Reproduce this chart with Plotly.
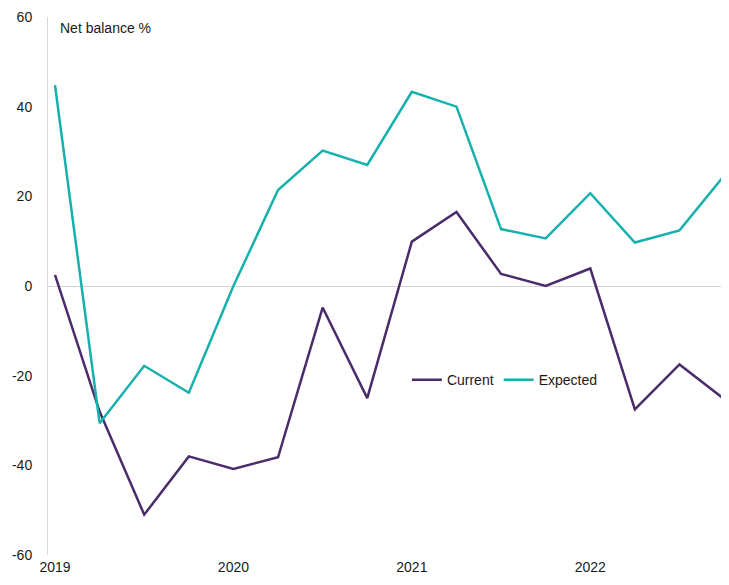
import plotly.graph_objects as go

quarters = list(range(16))
year_ticks = [0, 4, 8, 12]
year_labels = ["2019", "2020", "2021", "2022"]

current = [2.5, -28, -51, -38, -40.8, -38.2, -4.8, -25, 9.9, 16.5, 2.7, 0, 3.9, -27.5, -17.5, -25.2]
expected = [44.8, -30.6, -17.8, -23.8, 0, 21.4, 30.2, 27, 43.3, 40, 12.7, 10.6, 20.7, 9.7, 12.4, 24.6]

PURPLE = "#4b2c6b"
TEAL = "#16b1ad"

fig = go.Figure()
fig.add_trace(go.Scatter(x=quarters, y=current, mode="lines", name="Current",
                         line=dict(color=PURPLE, width=2.5), cliponaxis=False))
fig.add_trace(go.Scatter(x=quarters, y=expected, mode="lines", name="Expected",
                         line=dict(color=TEAL, width=2.5), cliponaxis=False))

fig.update_layout(
    template="none",
    width=721, height=569,
    margin=dict(l=40, r=0, t=9, b=22, autoexpand=False),
    paper_bgcolor="white", plot_bgcolor="white",
    font=dict(family="Liberation Sans, Arial, sans-serif", size=14, color="#1a1a1a"),
    showlegend=True,
    legend=dict(orientation="h", x=0.527, y=0.325, xanchor="left", yanchor="middle",
                bgcolor="rgba(0,0,0,0)", font=dict(size=14), itemwidth=30,
                tracegroupgap=0),
    xaxis=dict(range=[-0.157, 15.11], tickmode="array", tickvals=year_ticks,
               ticktext=year_labels, showgrid=False, zeroline=False, showline=False,
               ticks="", ticklabelstandoff=2, automargin=False),
    yaxis=dict(range=[-60, 60], tickmode="array", tickvals=[-60, -40, -20, 0, 20, 40, 60],
               ticktext=["-60", "-40", "-20", "0", "20", "40", "60"],
               showgrid=False, zeroline=True, zerolinecolor="#d4d4d4", zerolinewidth=1,
               showline=True, linecolor="#d9d9d9", linewidth=1, ticks="",
               ticklabelstandoff=12, automargin=False),
    annotations=[dict(text="Net balance %", xref="paper", yref="paper",
                      x=0.0, y=0.98, xanchor="left", yanchor="middle", xshift=10,
                      showarrow=False, font=dict(size=14))],
)

fig.write_html("out.html")
